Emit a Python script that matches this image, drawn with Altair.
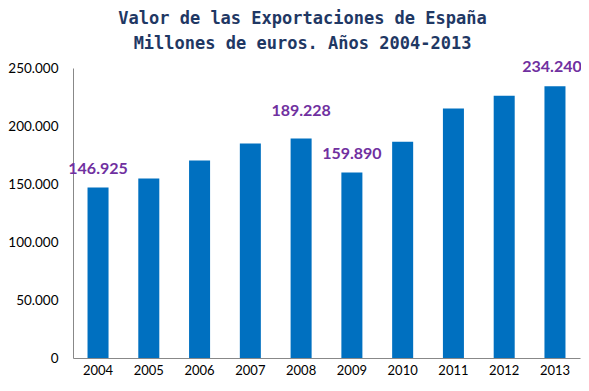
import altair as alt
import pandas as pd

years = ["2004", "2005", "2006", "2007", "2008", "2009", "2010", "2011", "2012", "2013"]
values = [146925, 154800, 170200, 185000, 189228, 159890, 186500, 215000, 226100, 234240]
labeled = ["2004", "2008", "2009", "2013"]

df = pd.DataFrame({"year": years, "value": values})
df["show"] = df["year"].isin(labeled)

base = alt.Chart(df)

x = alt.X("year:N", title=None,
          scale=alt.Scale(paddingInner=0.586, paddingOuter=0.286),
          axis=alt.Axis(labelAngle=0, ticks=False, domainColor="#888888",
                        labelFont="Lato", labelFontSize=13, labelColor="#000000",
                        labelPadding=6))
y = alt.Y("value:Q", title=None,
          scale=alt.Scale(domain=[0, 250000], nice=False),
          axis=alt.Axis(values=[0, 50000, 100000, 150000, 200000, 250000],
                        grid=False, ticks=False, domainColor="#888888",
                        labelFont="Lato", labelFontSize=13.5, labelColor="#000000",
                        labelPadding=15,
                        labelExpr="replace(format(datum.value, ',d'), ',', '.')"))

bars = base.mark_bar(color="#0070C0").encode(x=x, y=y)

label_layers = []
for sel, ddx, ddy in [("['2004','2009']", 0, -11), ("['2008']", 0, -19), ("['2013']", -3, -11)]:
    label_layers.append(
        base.transform_filter(f"datum.show && indexof({sel}, datum.year) >= 0")
        .transform_calculate(lbl="replace(format(datum.value, ',d'), ',', '.')")
        .mark_text(font="Lato", fontSize=16, fontWeight="bold", color="#7030A0",
                   baseline="bottom", dx=ddx, dy=ddy)
        .encode(x="year:N", y="value:Q", text="lbl:N")
    )

chart = alt.layer(bars, *label_layers).properties(
    width=507, height=290,
    title=alt.TitleParams(
        ["Valor de las Exportaciones de España", "Millones de euros. Años 2004-2013"],
        font="DejaVu Sans Mono", fontSize=17, fontWeight="bold", color="#1F3864",
        anchor="middle", lineHeight=25, offset=6, dx=-24),
    autosize=alt.AutoSizeParams(type="none"),
    padding={"left": 65, "top": 60, "right": 1, "bottom": 21},
).configure_view(stroke=None)

chart.save("out.html", embed_options={"renderer": "svg", "actions": False})
